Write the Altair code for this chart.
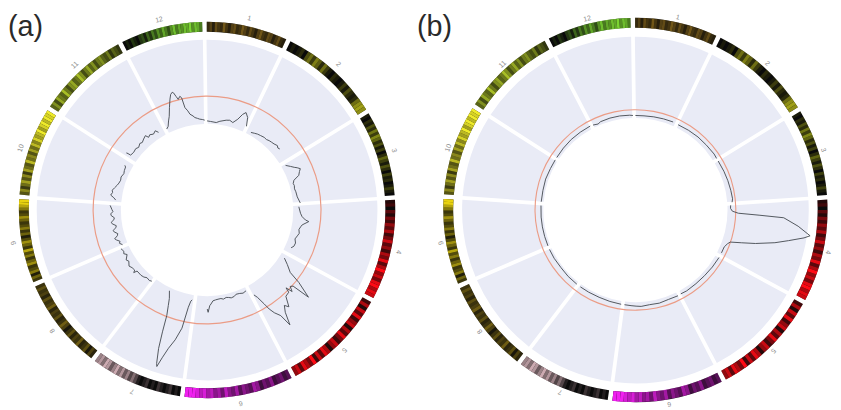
import math
import altair as alt
import pandas as pd

# ---------------- data ----------------
CHROMS = ["1", "2", "3", "4", "5", "6", "7", "8", "9", "10", "11", "12"]
CHROM_LEN = [26.4, 32.8, 27.8, 32.4, 34.0, 35.0, 29.7, 29.4, 27.3, 28.7, 29.8, 26.7]
CHROM_COLOR = ["#8e6c1c", "#a0a018", "#a4ac18", "#ff0a14", "#ff0a14", "#f020f0",
               "#e4bec6", "#a08618", "#e8d210", "#eeea2a", "#bcd42a", "#7cd432"]

# ideogram band intensity (0-9, 30 bands per chromosome, clockwise)
BANDS = [
    [3, 5, 2, 6, 4, 3, 7, 4, 2, 5, 6, 3, 4, 7, 5, 3, 6, 4, 2, 5, 7, 4, 3, 6, 5, 2, 4, 6, 3, 2],
    [0, 1, 0, 1, 2, 0, 4, 6, 3, 7, 5, 2, 6, 3, 1, 0, 2, 1, 0, 1, 3, 1, 4, 2, 1, 2, 6, 8, 9, 8],
    [1, 0, 2, 1, 4, 2, 6, 3, 7, 5, 2, 4, 1, 3, 0, 2, 5, 3, 1, 4, 2, 0, 3, 1, 2, 0, 1, 3, 1, 0],
    [1, 2, 0, 3, 1, 4, 2, 5, 3, 6, 2, 4, 7, 3, 5, 2, 6, 4, 8, 3, 6, 9, 5, 7, 4, 8, 9, 6, 8, 7],
    [2, 6, 1, 7, 3, 8, 2, 5, 7, 1, 6, 3, 8, 4, 2, 7, 5, 1, 6, 8, 3, 7, 2, 9, 4, 6, 8, 3, 7, 5],
    [3, 2, 4, 3, 2, 5, 3, 4, 2, 5, 6, 3, 4, 5, 3, 6, 4, 5, 7, 4, 6, 5, 7, 6, 8, 7, 8, 9, 9, 9],
    [0, 1, 0, 2, 1, 0, 1, 2, 0, 1, 0, 2, 1, 0, 1, 3, 5, 3, 6, 4, 7, 5, 8, 6, 4, 7, 8, 5, 7, 6],
    [2, 4, 1, 5, 3, 2, 6, 3, 4, 2, 5, 3, 1, 4, 6, 3, 2, 5, 3, 4, 2, 6, 4, 3, 5, 2, 4, 3, 5, 3],
    [2, 4, 1, 5, 3, 2, 6, 4, 2, 5, 3, 7, 2, 4, 6, 3, 1, 4, 2, 5, 3, 2, 4, 6, 3, 2, 5, 7, 9, 9],
    [3, 5, 2, 4, 6, 3, 5, 2, 6, 4, 3, 7, 4, 5, 3, 6, 4, 7, 5, 8, 6, 7, 9, 6, 8, 9, 7, 9, 8, 9],
    [4, 6, 3, 7, 5, 4, 8, 5, 3, 6, 7, 4, 5, 8, 6, 3, 5, 7, 4, 6, 3, 5, 6, 4, 3, 5, 2, 4, 3, 2],
    [0, 1, 0, 2, 1, 0, 2, 3, 1, 4, 2, 5, 3, 6, 4, 7, 5, 3, 6, 8, 5, 7, 6, 8, 7, 9, 6, 8, 7, 5],
]

# panel (a) track: position within chromosome, value (0 = track inner edge, 1 = outer edge)
A_POS = [
    [0.8, 3, 6.8, 9, 12.8, 15, 17.2, 19.5, 21.2, 22.6, 24.5, 26.0],
    [3.9, 6, 8, 10, 12.6, 14.5, 16.2, 18, 19.8, 21.9, 23.2, 24.4],
    [2, 4, 5.5, 6.5, 7.7, 9, 10.9, 12.7, 14.5, 16, 18, 20, 23.3, 25.4, 27.3],
    [1.8, 5.8, 7.8, 9.6, 10.3, 12.7, 14, 15.8, 18, 19.8, 22, 24.3, 26.5, 28],
    [3.3, 5.6, 8.3, 9.7, 12.1, 12.9, 14, 15.2, 16, 16.6, 19, 21.2, 22.4, 24, 25.6, 26.5, 28.2, 29.3, 30.1, 31.4, 32.5],
    [1.7, 4, 6, 8.4, 10, 12, 13.5, 15.1, 17, 18.5, 20.4, 22, 23.7, 25, 25.8, 26.8, 27.3],
    [1.8, 2.5, 3.3, 4.4, 6.2, 8, 9.3, 10.2, 10.6, 11.7, 12.5, 13.3, 14.5, 15.5, 17.4],
    [0.5, 2, 4.3, 6, 8, 11.6, 12.2, 13, 15.1, 17, 19.5, 21, 23.6, 25, 26.3, 28.5],
    [1, 2.5, 3.5, 5, 6, 7.3, 8.5, 10, 11, 12.3, 13.5, 15, 16, 17.3, 18.5, 20, 21, 22.3, 23.5, 26],
    [2.2, 3.5, 4.8, 6.5, 7.8, 9.5, 11.4, 13, 15, 17, 19.6, 21.5, 23.8, 24.5],
    [2.5, 2.7, 3.0, 5.5, 8, 9.8, 12, 13.5, 15.5, 17.6, 18.5, 20, 22.1, 24.1, 25.3],
    [1, 2.5, 4.1, 5.5, 7.3, 9, 10, 11, 11.5, 12.2, 12.9, 14, 14.7, 15.3, 16.5, 17.4, 19, 20, 21.5, 22.9, 24.5, 26],
]
A_VAL = [
    [0.035, 0.029, 0.021, 0.041, 0.067, 0.076, 0.059, 0.115, 0.188, 0.223, 0.176, 0.075],
    [0.035, 0.047, 0.059, 0.065, 0.074, 0.071, 0.082, 0.088, 0.094, 0.109, 0.094, 0.104],
    [0.049, 0.094, 0.129, 0.159, 0.188, 0.165, 0.141, 0.067, 0.047, 0.053, 0.045, 0.053, 0.059, 0.073, 0.087],
    [0.067, 0.087, 0.108, 0.151, 0.193, 0.120, 0.106, 0.092, 0.106, 0.092, 0.076, 0.098, 0.094, 0.071],
    [0.059, 0.129, 0.212, 0.365, 0.565, 0.341, 0.318, 0.376, 0.294, 0.353, 0.365, 0.482, 0.435, 0.506,
     0.659, 0.506, 0.435, 0.365, 0.282, 0.176, 0.129],
    [0.042, 0.053, 0.041, 0.035, 0.053, 0.059, 0.047, 0.040, 0.053, 0.041, 0.044, 0.049, 0.058, 0.094,
     0.114, 0.192, 0.153],
    [0.059, 0.076, 0.153, 0.412, 0.565, 0.682, 0.812, 0.929, 0.894, 0.718, 0.518, 0.318, 0.200, 0.118, 0.035],
    [0.047, 0.059, 0.052, 0.071, 0.080, 0.080, 0.122, 0.094, 0.100, 0.118, 0.087, 0.106, 0.064, 0.094, 0.080, 0.098],
    [0.062, 0.090, 0.075, 0.110, 0.126, 0.085, 0.074, 0.110, 0.119, 0.080, 0.071, 0.115, 0.124, 0.090,
     0.082, 0.118, 0.121, 0.095, 0.106, 0.129],
    [0.068, 0.094, 0.135, 0.118, 0.127, 0.106, 0.084, 0.071, 0.062, 0.071, 0.055, 0.065, 0.071, 0.088],
    [0.141, 0.148, 0.094, 0.085, 0.094, 0.078, 0.100, 0.088, 0.107, 0.124, 0.084, 0.100, 0.080, 0.101, 0.064],
    [0.051, 0.071, 0.129, 0.176, 0.271, 0.365, 0.415, 0.435, 0.424, 0.376, 0.334, 0.365, 0.344, 0.220,
     0.176, 0.132, 0.106, 0.084, 0.071, 0.059, 0.053, 0.044],
]
A_THRESHOLD = 0.33

# panel (b) track
B_POS = [
    [0.8, 6, 12, 18, 24],
    [1, 8, 15, 22, 29, 32],
    [1, 8, 14, 20, 25, 27],
    [1, 2.8, 4.5, 5.6, 6.2, 6.8, 9.5, 12.2, 13.2, 15.1, 17, 19.4, 21, 22.5, 24, 26.4, 30.3],
    [1, 8, 15, 22, 29, 33],
    [1, 7, 13, 19, 24, 27, 30, 34],
    [1, 8, 15, 22, 28],
    [1, 8, 15, 22, 28],
    [1, 7, 13, 19, 26],
    [1, 8, 15, 22, 28],
    [1, 8, 15, 22, 29],
    [1, 4, 6, 12, 18, 24, 26],
]
B_VAL = [
    [0.030, 0.030, 0.035, 0.040, 0.045],
    [0.040, 0.045, 0.050, 0.050, 0.055, 0.050],
    [0.050, 0.055, 0.060, 0.065, 0.070, 0.060],
    [0.040, 0.037, 0.060, 0.134, 0.390, 0.695, 0.880, 1.040, 0.970, 0.790, 0.630, 0.400, 0.230, 0.098,
     0.073, 0.050, 0.050],
    [0.050, 0.045, 0.040, 0.040, 0.045, 0.040],
    [0.045, 0.040, 0.050, 0.045, 0.055, 0.050, 0.045, 0.040],
    [0.040, 0.035, 0.030, 0.030, 0.030],
    [0.030, 0.030, 0.025, 0.030, 0.030],
    [0.030, 0.030, 0.030, 0.030, 0.030],
    [0.030, 0.030, 0.035, 0.030, 0.030],
    [0.030, 0.035, 0.040, 0.040, 0.040],
    [0.035, 0.020, 0.035, 0.040, 0.040, 0.035, 0.030],
]
B_THRESHOLD = 0.10

# ---------------- layout (pixels) ----------------
W, H = 833, 402
X_DOMAIN = [-201, 632]
Y_DOMAIN = [-200, 202]
OFFSET_DEG = -0.8
TOTAL = sum(CHROM_LEN)
GAP = 1.4  # ideogram gap in genome units

PANELS = {
    "a": dict(cx=0, cy=0, ring=(180, 190), track=(87, 172), label_r=198,
              pos=A_POS, val=A_VAL, thr=A_THRESHOLD, title="(a)", tx=0),
    "b": dict(cx=432.5, cy=0, ring=(184, 194), track=(93, 175), label_r=199,
              pos=B_POS, val=B_VAL, thr=B_THRESHOLD, title="(b)", tx=413),
}

starts = [sum(CHROM_LEN[:i]) for i in range(len(CHROM_LEN))]
off_rad = math.radians(OFFSET_DEG)

xs = alt.Scale(domain=X_DOMAIN, nice=False, zero=False)
ys = alt.Scale(domain=Y_DOMAIN, nice=False, zero=False)
ts = alt.Scale(domain=[0, TOTAL], range=[off_rad, off_rad + 2 * math.pi], nice=False, zero=False)

X = alt.X("x:Q", scale=xs, axis=None)
Y = alt.Y("y:Q", scale=ys, axis=None)
T = alt.Theta("t0:Q", scale=ts, stack=None)
T2 = alt.Theta2("t1:Q")


def polar(cx, cy, r, t):
    ang = off_rad + 2 * math.pi * t / TOTAL
    return cx + r * math.sin(ang), cy + r * math.cos(ang)


layers = []
for key, p in PANELS.items():
    cx, cy = p["cx"], p["cy"]
    r0, r1 = p["track"]
    g0, g1 = p["ring"]

    sectors = pd.DataFrame({"x": cx, "y": cy, "t0": starts,
                            "t1": [s + l for s, l in zip(starts, CHROM_LEN)]})
    layers.append(alt.Chart(sectors).mark_arc(radius=r0, radius2=r1, padAngle=0.019,
                                                color="#e9ebf6").encode(x=X, y=Y, theta=T, theta2=T2))

    ring = pd.DataFrame({"x": cx, "y": cy, "t0": [s + GAP / 2 for s in starts],
                         "t1": [s + l - GAP / 2 for s, l in zip(starts, CHROM_LEN)]})
    layers.append(alt.Chart(ring).mark_arc(radius=g0, radius2=g1, color="#0a0a0a")
                  .encode(x=X, y=Y, theta=T, theta2=T2))

    rows = []
    for ci, (s, l) in enumerate(zip(starts, CHROM_LEN)):
        n = len(BANDS[ci])
        a0, a1 = s + GAP / 2, s + l - GAP / 2
        w = (a1 - a0) / n
        for bi, inten in enumerate(BANDS[ci]):
            rows.append({"x": cx, "y": cy, "t0": a0 + bi * w, "t1": a0 + (bi + 1) * w,
                         "col": CHROM_COLOR[ci], "op": inten / 9.0})
    layers.append(alt.Chart(pd.DataFrame(rows)).mark_arc(radius=g0, radius2=g1)
                  .encode(x=X, y=Y, theta=T, theta2=T2,
                          color=alt.Color("col:N", scale=None),
                          opacity=alt.Opacity("op:Q", scale=None)))

    thr_r = r0 + p["thr"] * (r1 - r0)
    circ = pd.DataFrame({"x": [cx], "y": [cy], "t0": [0.0], "t1": [TOTAL]})
    layers.append(alt.Chart(circ).mark_arc(radius=thr_r - 0.6, radius2=thr_r + 0.6,
                                             color="#eb9c86").encode(x=X, y=Y, theta=T, theta2=T2))

    lrows = []
    for ci, (s, poss, vals) in enumerate(zip(starts, p["pos"], p["val"])):
        for i, (ps, v) in enumerate(zip(poss, vals)):
            xx, yy = polar(cx, cy, r0 + v * (r1 - r0), s + ps)
            lrows.append({"x": xx, "y": yy, "chrom": CHROMS[ci], "i": i})
    layers.append(alt.Chart(pd.DataFrame(lrows)).mark_line(color="#4a4f55", strokeWidth=0.95)
                  .encode(x=X, y=Y, detail="chrom:N", order="i:Q"))

    trows = []
    for ci, (s, l) in enumerate(zip(starts, CHROM_LEN)):
        mid = s + l / 2
        xx, yy = polar(cx, cy, p["label_r"], mid)
        ang = (OFFSET_DEG + 360 * mid / TOTAL) % 360
        trows.append({"x": xx, "y": yy, "label": CHROMS[ci], "ang": ang})
    layers.append(alt.Chart(pd.DataFrame(trows)).mark_text(fontSize=7, color="#8c8c8c",
                                                             font="Liberation Sans")
                  .encode(x=X, y=Y, text="label:N", angle=alt.Angle("ang:Q", scale=None)))

    layers.append(alt.Chart(pd.DataFrame({"t": [p["title"]]})).mark_text(
        fontSize=29, font="Liberation Sans", color="#2a2a2a", align="left", baseline="alphabetic")
        .encode(text="t:N", x=alt.value(p["tx"]), y=alt.value(26)))

chart = alt.layer(*layers).properties(width=W, height=H, padding=0, autosize="none") \
    .configure_view(stroke=None)

chart.save("out.html", embed_options={"renderer": "svg", "actions": False})
